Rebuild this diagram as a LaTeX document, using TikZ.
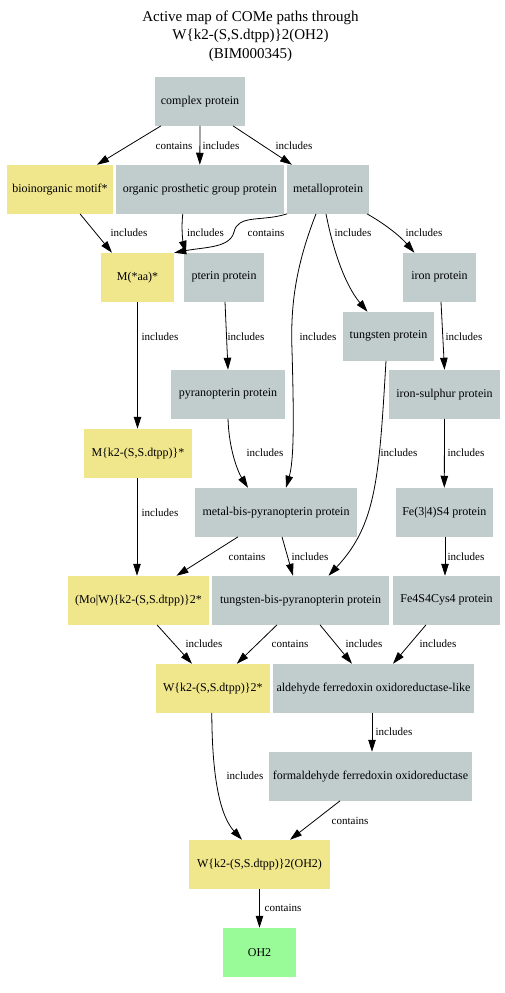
\documentclass[tikz,border=0pt]{standalone}
\usepackage{fontspec}
\setmainfont{Liberation Serif}
\usetikzlibrary{arrows.meta}
\definecolor{gbox}{HTML}{C1CDCD}
\definecolor{ybox}{HTML}{F0E68C}
\definecolor{grbox}{HTML}{98FB98}
\begin{document}
\begin{tikzpicture}[x=1pt,y=-1pt,
 box/.style={inner sep=0pt, minimum height=48.7pt, font=\fontsize{12}{14}\selectfont},
 gbx/.style={box, fill=gbox},
 ybx/.style={box, fill=ybox},
 grx/.style={box, fill=grbox},
 edge/.style={-{Triangle[length=12pt,width=7.5pt]}, line width=0.8pt},
 elab/.style={font=\fontsize{11}{13}\selectfont, inner sep=0pt}]
\useasboundingbox (0,0) rectangle (504,993);

\node[align=center, font=\fontsize{15}{18.5}\selectfont] (title) at (250.5,36)
  {Active map of COMe paths through\\W\{k2-(S,S.dtpp)\}2(OH2)\\(BIM000345)};

% nodes
\node[gbx, minimum width=90pt]    (cp)   at (200,101.3)   {complex protein};
\node[ybx, minimum width=106pt]   (bio)  at (60,189.3)    {bioinorganic motif*};
\node[gbx, minimum width=167.7pt] (org)  at (199.8,189.3) {organic prosthetic group protein};
\node[gbx, minimum width=82pt]    (met)  at (328,189.3)   {metalloprotein};
\node[ybx, minimum width=73pt]    (maa)  at (137.5,277.3) {M(*aa)*};
\node[gbx, minimum width=80pt]    (pter) at (224,277.3)   {pterin protein};
\node[gbx, minimum width=73pt]    (iron) at (439.5,277.3) {iron protein};
\node[gbx, minimum width=91pt]    (tung) at (388.5,336.3) {tungsten protein};
\node[gbx, minimum width=114pt]   (pyr)  at (228,394.3)   {pyranopterin protein};
\node[gbx, minimum width=111pt]   (fes)  at (444.5,394.3) {iron-sulphur protein};
\node[ybx, minimum width=108pt]   (mk2)  at (138,453.3)   {M\{k2-(S,S.dtpp)\}*};
\node[gbx, minimum width=162pt]   (mbp)  at (276,512.3)   {metal-bis-pyranopterin protein};
\node[gbx, minimum width=96.7pt]  (fe34) at (444.3,512.3) {Fe(3|4)S4 protein};
\node[ybx, minimum width=141pt]   (mow)  at (138.5,600.3) {(Mo|W)\{k2-(S,S.dtpp)\}2*};
\node[gbx, minimum width=177pt]   (tbp)  at (300.5,600.3) {tungsten-bis-pyranopterin protein};
\node[gbx, minimum width=107pt]   (fe4)  at (446.5,600.3) {Fe4S4Cys4 protein};
\node[ybx, minimum width=113.7pt] (w2)   at (212.8,688.3) {W\{k2-(S,S.dtpp)\}2*};
\node[gbx, minimum width=201pt]   (ald)  at (373.5,688.3) {aldehyde ferredoxin oxidoreductase-like};
\node[gbx, minimum width=203pt]   (form) at (370.5,776.3) {formaldehyde ferredoxin oxidoreductase};
\node[ybx, minimum width=141pt]   (woh)  at (259.5,864.3) {W\{k2-(S,S.dtpp)\}2(OH2)};
\node[grx, minimum width=73pt]    (oh2)  at (259.5,952.3) {OH2};

% edges
\draw[edge] ([xshift=-39pt]cp.south) -- ([xshift=37pt]bio.north);
\draw[edge] (cp.south) -- (org.north);
\draw[edge] ([xshift=33pt]cp.south) -- ([xshift=-36pt]met.north);
\draw[edge] ([xshift=20pt]bio.south) -- ([xshift=-25.5pt]maa.north);
\draw[edge] ([xshift=-17pt]org.south) .. controls (181,228) and (183,242) .. ([xshift=-38pt]pter.north);
\coordinate (cmid) at (234,232);
\draw[edge] ([xshift=-41pt]met.south) .. controls (262,222) and (238,214) .. (cmid)
   .. controls (230,248) and (205,247) .. (maa.north east);
\draw[edge] ([xshift=-12pt]met.south) .. controls (298,260) and (290,300) .. (292,350)
   .. controls (294,420) and (294,460) .. ([xshift=10pt]mbp.north);
\draw[edge] ([xshift=-2pt]met.south) .. controls (333,250) and (345,285) .. ([xshift=-21pt]tung.north);
\draw[edge] ([xshift=39pt]met.south) .. controls (385,224) and (400,236) .. ([xshift=-25pt]iron.north);
\draw[edge] (maa.south) -- ([xshift=-0.5pt]mk2.north);
\draw[edge] ([xshift=1pt]pter.south) -- (pyr.north);
\draw[edge] ([xshift=1.5pt]iron.south) -- (fes.north);
\draw[edge] ([xshift=-2.5pt]tung.south) .. controls (379,480) and (376,525) .. ([xshift=28pt]tbp.north);
\draw[edge] (pyr.south) .. controls (229,450) and (238,472) .. ([xshift=-28pt]mbp.north);
\draw[edge] (fes.south) -- (fe34.north);
\draw[edge] ([xshift=-1pt]mk2.south) -- ([xshift=-1.5pt]mow.north);
\draw[edge] ([xshift=-38pt]mbp.south) -- ([xshift=38pt]mow.north);
\draw[edge] ([xshift=6pt]mbp.south) -- ([xshift=-7.5pt]tbp.north);
\draw[edge] ([xshift=0.7pt]fe34.south) -- ([xshift=-1.5pt]fe4.north);
\draw[edge] ([xshift=18.5pt]mow.south) -- ([xshift=-20.8pt]w2.north);
\draw[edge] ([xshift=-23.5pt]tbp.south) -- ([xshift=24pt]w2.north);
\draw[edge] ([xshift=19.5pt]tbp.south) -- ([xshift=-21.5pt]ald.north);
\draw[edge] ([xshift=-20.5pt]fe4.south) -- ([xshift=19.5pt]ald.north);
\draw[edge] ([xshift=-1.5pt]ald.south) -- ([xshift=1.5pt]form.north);
\draw[edge] ([xshift=-1pt]w2.south) .. controls (212,785) and (222,818) .. ([xshift=-17.5pt]woh.north);
\draw[edge] ([xshift=-30.5pt]form.south) -- ([xshift=30.5pt]woh.north);
\draw[edge] (woh.south) -- (oh2.north);

% edge labels
\node[elab] (l1)  at (174,146) {contains};
\node[elab] (l2)  at (221,146) {includes};
\node[elab] (l3)  at (294,146) {includes};
\node[elab] (l4)  at (129,233) {includes};
\node[elab] (l5)  at (205.5,233) {includes};
\node[elab] (l6)  at (266,233) {contains};
\node[elab] (l7)  at (353,233) {includes};
\node[elab] (l8)  at (424,233) {includes};
\node[elab] (l9)  at (160,337) {includes};
\node[elab] (l10) at (246,337) {includes};
\node[elab] (l11) at (318,337) {includes};
\node[elab] (l12) at (464,337) {includes};
\node[elab] (l13) at (265,453) {includes};
\node[elab] (l14) at (399,453) {includes};
\node[elab] (l15) at (466,453) {includes};
\node[elab] (l16) at (160,513) {includes};
\node[elab] (l17) at (247,557) {contains};
\node[elab] (l18) at (310,557) {includes};
\node[elab] (l19) at (466,557) {includes};
\node[elab] (l20) at (204,644) {includes};
\node[elab] (l21) at (290,644) {contains};
\node[elab] (l22) at (364,644) {includes};
\node[elab] (l23) at (438,644) {includes};
\node[elab] (l24) at (394,732) {includes};
\node[elab] (l25) at (245,776) {includes};
\node[elab] (l26) at (350,821) {contains};
\node[elab] (l27) at (283,908) {contains};
\end{tikzpicture}
\end{document}
